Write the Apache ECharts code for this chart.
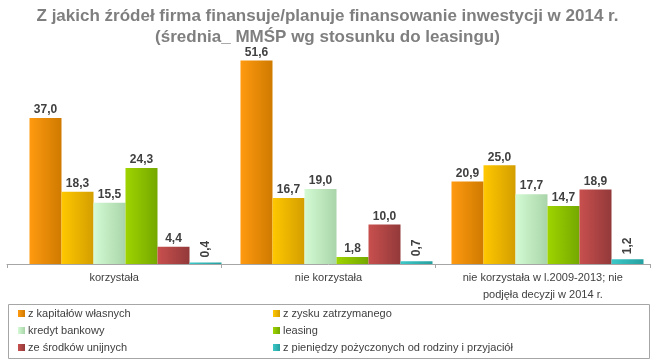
<!DOCTYPE html>
<html><head><meta charset="utf-8">
<script src="https://cdn.jsdelivr.net/npm/echarts@6/dist/echarts.min.js"></script>
<style>html,body{margin:0;padding:0;background:#fff}#c{width:655px;height:363px}</style>
</head><body><div id="c"></div>
<script>
const categories = ['korzystała', 'nie korzystała', 'nie korzystała w l.2009-2013; nie\npodjęła decyzji w 2014 r.'];
const seriesNames = ['z kapitałów własnych', 'z zysku zatrzymanego', 'kredyt bankowy', 'leasing', 'ze środków unijnych', 'z pieniędzy pożyczonych od rodziny i przyjaciół'];
const kapitalyWlasne = [37.0, 51.6, 20.9];
const zyskZatrzymany = [18.3, 16.7, 25.0];
const kredytBankowy = [15.5, 19.0, 17.7];
const leasing = [24.3, 1.8, 14.7];
const srodkiUnijne = [4.4, 10.0, 18.9];
const pozyczkiRodzina = [0.4, 0.7, 1.2];
const allValues = [kapitalyWlasne, zyskZatrzymany, kredytBankowy, leasing, srodkiUnijne, pozyczkiRodzina];
const colorPairs = [['#ff9a10','#cf7a00'],['#ffc800','#d49e00'],['#d4fbd4','#a9d4a9'],['#9fd400','#74a800'],['#c8504e','#93393a'],['#3cc8c8','#26a0a0']];

const chart = echarts.init(document.getElementById('c'));
const FONT = 'Liberation Sans, Arial, sans-serif';
const fmt = v => v.toFixed(1).replace('.', ',');
const series = allValues.map((vals, i) => ({
  name: seriesNames[i],
  type: 'bar',
  xAxisIndex: 0, yAxisIndex: 0,
  barGap: '0%',
  barCategoryGap: '9%',
  itemStyle: { color: new echarts.graphic.LinearGradient(0,0,1,0,[{offset:0,color:colorPairs[i][0]},{offset:1,color:colorPairs[i][1]}]) },
  data: vals.map(v => v < 1.5 ? {
    value: v,
    label: { rotate: 90, align: 'left', verticalAlign: 'middle', distance: 5 }
  } : v),
  label: {
    show: true, position: 'top', distance: 2,
    fontFamily: FONT, fontSize: 12, fontWeight: 'bold', color: '#404040',
    formatter: p => fmt(p.value)
  }
}));
chart.setOption({
  animation: false,
  title: {
    text: 'Z jakich źródeł firma finansuje/planuje finansowanie inwestycji w 2014 r.\n(średnia_ MMŚP wg stosunku do leasingu)',
    left: 'center', top: 1,
    textStyle: { fontFamily: FONT, fontSize: 17, fontWeight: 'bold', color: '#7f7f7f', lineHeight: 21 }
  },
  grid: [
    { left: 20, right: 2, top: 45, bottom: 99 },
    { left: 7, right: 5, top: 45, bottom: 99 }
  ],
  xAxis: [
    { type: 'category', gridIndex: 0, data: categories, show: false },
    { type: 'category', gridIndex: 1, data: categories,
      axisLine: { lineStyle: { color: '#a6a6a6' } },
      axisTick: { show: true, lineStyle: { color: '#a6a6a6' }, length: 4 },
      axisLabel: { fontFamily: FONT, fontSize: 11, color: '#404040', margin: 5, lineHeight: 17, interval: 0 } }
  ],
  yAxis: [
    { type: 'value', gridIndex: 0, min: 0, max: 55.5, show: false, splitLine: { show: false } },
    { type: 'value', gridIndex: 1, min: 0, max: 55.5, show: false, splitLine: { show: false } }
  ],
  legend: [
    { data: seriesNames.filter((_, i) => i % 2 === 0), orient: 'vertical', left: 13, top: 303, itemWidth: 7, itemHeight: 7, itemGap: 6, icon: 'rect',
      textStyle: { fontFamily: FONT, fontSize: 11, color: '#404040', padding: [0,0,0,-2] } },
    { data: seriesNames.filter((_, i) => i % 2 === 1), orient: 'vertical', left: 268, top: 303, itemWidth: 7, itemHeight: 7, itemGap: 6, icon: 'rect',
      textStyle: { fontFamily: FONT, fontSize: 11, color: '#404040', padding: [0,0,0,-2] } }
  ],
  graphic: [{ type: 'rect', shape: { x: 8.5, y: 304.5, width: 641, height: 54 }, style: { fill: 'none', stroke: '#a6a6a6', lineWidth: 1 } }],
  series: series
});
</script></body></html>
